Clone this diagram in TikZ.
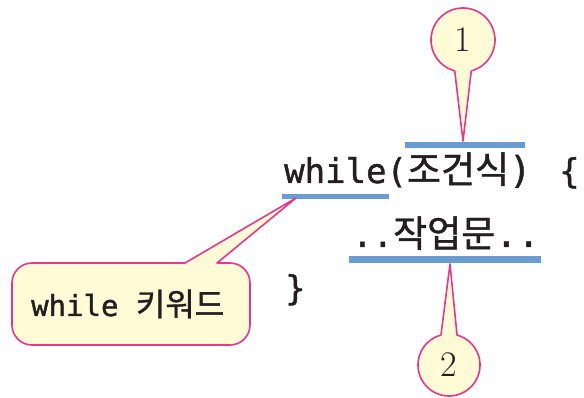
\documentclass[tikz,border=0pt]{standalone}
\usepackage{fontspec}
\newfontfamily\mono[FakeBold=1.2]{DejaVu Sans Mono}
\newfontfamily\kr[FakeBold=1.2]{Noto Sans CJK KR}
\newcommand\krbig{\kr\fontsize{37}{40}\selectfont}
\newcommand\krmid{\kr\fontsize{32}{36}\selectfont}
\definecolor{pinkline}{HTML}{E6378C}
\definecolor{paleyel}{HTML}{FFFBD6}
\definecolor{barblue}{HTML}{6A9BD1}
\definecolor{ink}{HTML}{231F20}
\tikzset{
  callout/.style={draw=pinkline,fill=paleyel,line width=1.6pt,line join=round},
  bar/.style={fill=barblue,draw=none},
  code/.style={inner sep=0pt,text=ink,anchor=base west,font=\fontsize{34}{40}\selectfont},
  label/.style={inner sep=0pt,text=ink,anchor=base west,font=\fontsize{29}{34}\selectfont},
  num/.style={inner sep=0pt,text=ink,font=\fontsize{36}{40}\selectfont}
}
\begin{document}
\begin{tikzpicture}[x=1pt,y=1pt]
\useasboundingbox (0,0) rectangle (584,-398);
% code text
\node[code] (w) at (284,-183) {\mono while(\krbig 조건식\mono)};
\node[code] (ob) at (559,-183) {\mono\{};
\node[code] (body) at (352,-247) {\mono..\krbig 작업문\mono ..};
\node[code] (cb) at (285,-300) {\mono\}};
% underline bars
\fill[bar] (405,-142) rectangle (525,-148);
\fill[bar] (282,-194) rectangle (389,-199);
\fill[bar] (349,-256) rectangle (541,-263);
% callout 1
\coordinate (c1) at (463,-40);
\coordinate (t1) at (463,-141);
\draw[callout] (t1) -- ([shift={(285:32)}]c1) arc[start angle=285,end angle=615,radius=32] -- cycle;
\node[num] (n1) at (c1) {1};
% callout 2
\coordinate (c2) at (449,-365);
\coordinate (t2) at (450,-264);
\draw[callout] (t2) -- ([shift={(105:31)}]c2) arc[start angle=105,end angle=435,radius=31] -- cycle;
\node[num] (n2) at (c2) {2};
% keyword callout
\coordinate (t3) at (296,-198);
\draw[callout] (32,-263) -- (185,-263) -- (t3) -- (217,-263) -- (230,-263)
  arc[start angle=90,end angle=0,radius=20] -- (250,-325)
  arc[start angle=0,end angle=-90,radius=20] -- (32,-345)
  arc[start angle=270,end angle=180,radius=20] -- (12,-283)
  arc[start angle=180,end angle=90,radius=20] -- cycle;
\node[label] (kw) at (31,-316) {\mono while \krmid 키워드};
\end{tikzpicture}
\end{document}
